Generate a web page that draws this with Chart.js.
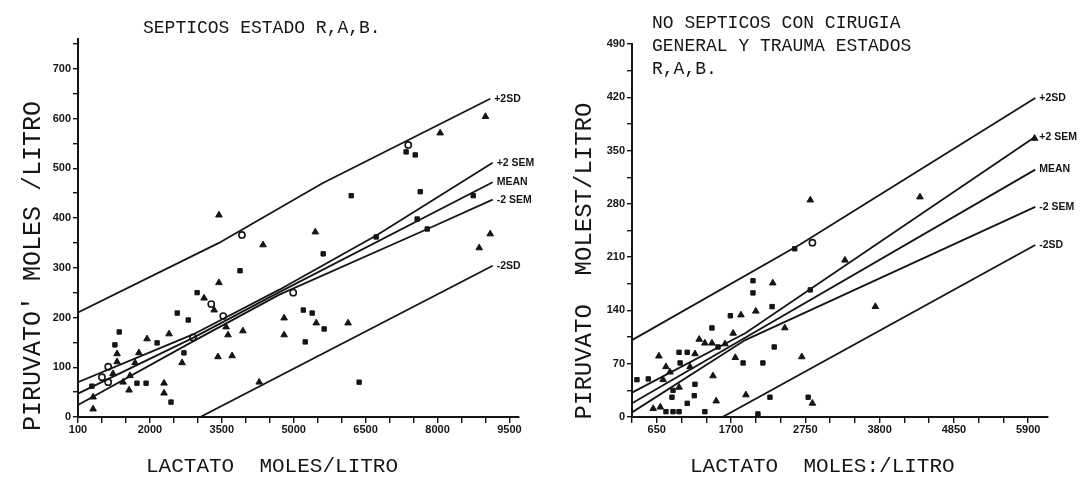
<!DOCTYPE html>
<html lang="es">
<head>
<meta charset="utf-8">
<title>Lactato vs Piruvato</title>
<script src="https://cdn.jsdelivr.net/npm/chart.js@4.4.1/dist/chart.umd.min.js"></script>
<style>
  html, body { margin:0; padding:0; background:#fff; }
  #wrap { position:relative; width:1091px; height:491px; background:#fff; overflow:hidden; }
  canvas { position:absolute; top:0; }
  #left { left:0; }
  #right { left:545px; }
</style>
</head>
<body>
<div id="wrap">
  <canvas id="left" width="545" height="491" style="width:545px;height:491px"></canvas>
  <canvas id="right" width="546" height="491" style="width:546px;height:491px"></canvas>
</div>
<script>
// ================= LEFT PANEL =================
const leftTitleLines = ['SEPTICOS ESTADO R,A,B.'];
const leftYTitle = "PIRUVATO' MOLES /LITRO";
const leftXTitle = 'LACTATO  MOLES/LITRO';

const leftXTicks = [500,1000,1500,2000,2500,3000,3500,4000,4500,5000,5500,6000,6500,7000,7500,8000,8500,9000,9500];
const leftXLabelValues = [500,2000,3500,5000,6500,8000,9500];
const leftXLabels = ['100','2000','3500','5000','6500','8000','9500'];
const leftYTicks = [0,50,100,150,200,250,300,350,400,450,500,550,600,650,700,750];
const leftYLabelValues = [0,100,200,300,400,500,600,700];
const leftYLabels = ['0','100','200','300','400','500','600','700'];

const leftPlus2SD  = [{x:500,y:210},{x:3440,y:350},{x:5600,y:470},{x:9100,y:640}];
const leftPlus2SEM = [{x:500,y:70},{x:2900,y:166},{x:4700,y:256},{x:6740,y:366},{x:9150,y:511}];
const leftMean     = [{x:500,y:47},{x:2900,y:159},{x:4700,y:251},{x:9150,y:472}];
const leftMinus2SEM= [{x:500,y:24},{x:2900,y:152},{x:4700,y:246},{x:7790,y:378},{x:9150,y:437}];
const leftMinus2SD = [{x:3050,y:0},{x:9150,y:304}];

const leftA = [
  {x:3440,y:406},{x:4360,y:346},{x:3440,y:270},{x:3130,y:239},{x:3340,y:215},{x:3590,y:181},
  {x:3630,y:165},{x:1940,y:157},{x:2400,y:167},{x:3940,y:173},{x:4800,y:199},{x:4800,y:165},
  {x:3420,y:121},{x:3715,y:123},{x:1315,y:127},{x:1315,y:111},{x:2670,y:109},{x:1770,y:129},
  {x:1690,y:109},{x:1230,y:87},{x:1440,y:70},{x:1585,y:83},{x:1565,y:54},{x:2295,y:68},
  {x:2295,y:48},{x:815,y:40},{x:815,y:16},{x:4280,y:70},{x:5450,y:372},{x:9100,y:368},
  {x:8870,y:340},{x:5470,y:189},{x:6135,y:189},{x:9000,y:604},{x:8055,y:571}
];
const leftB = [
  {x:3880,y:294},{x:2985,y:250},{x:2570,y:209},{x:2800,y:195},{x:1360,y:171},{x:2150,y:149},
  {x:1270,y:145},{x:2710,y:129},{x:1730,y:68},{x:1920,y:68},{x:2440,y:30},{x:790,y:62},
  {x:6200,y:445},{x:7640,y:453},{x:5615,y:328},{x:6720,y:362},{x:7575,y:398},{x:7785,y:378},
  {x:8745,y:445},{x:5200,y:215},{x:5385,y:209},{x:5635,y:177},{x:5240,y:151},{x:6365,y:70},
  {x:7345,y:533},{x:7535,y:527}
];
const leftO = [
  {x:3920,y:366},{x:3280,y:227},{x:3530,y:203},{x:2900,y:160},{x:1130,y:101},{x:1000,y:80},
  {x:1130,y:70},{x:4990,y:250},{x:7390,y:547}
];

// ================= RIGHT PANEL =================
const rightTitleLines = ['NO SEPTICOS CON CIRUGIA','GENERAL Y TRAUMA ESTADOS','R,A,B.'];
const rightYTitle = 'PIRUVATO  MOLEST/LITRO';
const rightXTitle = 'LACTATO  MOLES:/LITRO';

const rightXTicks = [300,650,1000,1350,1700,2050,2400,2750,3100,3450,3800,4150,4500,4850,5200,5550,5900];
const rightXLabelValues = [650,1700,2750,3800,4850,5900];
const rightXLabels = ['650','1700','2750','3800','4850','5900'];
const rightYTicks = [0,35,70,105,140,175,210,245,280,315,350,385,420,455,490];
const rightYLabelValues = [0,70,140,210,280,350,420,490];
const rightYLabels = ['0','70','140','210','280','350','420','490'];

const rightPlus2SD  = [{x:300,y:101},{x:2680,y:227},{x:6000,y:419}];
const rightPlus2SEM = [{x:300,y:32},{x:1900,y:110},{x:6000,y:368}];
const rightMean     = [{x:300,y:18},{x:6000,y:325}];
const rightMinus2SEM= [{x:300,y:6},{x:1900,y:101},{x:6000,y:276}];
const rightMinus2SD = [{x:1580,y:0},{x:6000,y:226}];

const rightA = [
  {x:2820,y:285},{x:2290,y:176},{x:1840,y:134},{x:2050,y:139},{x:1730,y:110},{x:1250,y:102},
  {x:1330,y:97},{x:1430,y:97},{x:1615,y:96},{x:680,y:80},{x:1190,y:83},{x:780,y:66},
  {x:1760,y:78},{x:2700,y:79},{x:740,y:49},{x:1445,y:54},{x:1490,y:21},{x:1910,y:29},
  {x:600,y:11},{x:700,y:13},{x:2850,y:18},{x:3310,y:206},{x:3740,y:145},{x:4370,y:289},
  {x:2460,y:117},{x:5990,y:366},{x:837,y:59},{x:1120,y:66},{x:965,y:39}
];
const rightB = [
  {x:2010,y:179},{x:2010,y:163},{x:1690,y:133},{x:2280,y:145},{x:1430,y:117},{x:1516,y:92},
  {x:965,y:85},{x:1080,y:85},{x:980,y:71},{x:1870,y:71},{x:2150,y:71},{x:2310,y:92},
  {x:370,y:49},{x:530,y:50},{x:1190,y:43},{x:865,y:26},{x:1180,y:28},{x:2250,y:26},
  {x:780,y:7},{x:880,y:7},{x:965,y:7},{x:1080,y:18},{x:1330,y:7},{x:2080,y:4},
  {x:2790,y:26},{x:2820,y:167},{x:2600,y:221},{x:880,y:35}
];
const rightO = [{x:2850,y:229}];

// ================= RENDERING =================
const ink = '#151515';
const monoFamily = '"Liberation Mono", "DejaVu Sans Mono", monospace';
const tickFont = { family: '"Liberation Sans", Arial, sans-serif', weight: 'bold', size: 11 };

function makeAnnotate(spec) {
  return {
    id: 'annotate',
    afterDatasetsDraw(chart) {
      const ctx = chart.ctx;
      ctx.save();
      ctx.fillStyle = ink;
      ctx.textBaseline = 'middle';
      ctx.textAlign = 'left';
      ctx.font = 'bold 10.5px "Liberation Sans", Arial, sans-serif';
      chart.data.datasets.forEach((ds, i) => {
        if (!ds.endLabel) return;
        const pts = chart.getDatasetMeta(i).data;
        const p = pts[pts.length - 1];
        ctx.fillText(ds.endLabel, p.x + 4, p.y);
      });
      ctx.font = '18px ' + monoFamily;
      spec.titleLines.forEach((t, k) => ctx.fillText(t, spec.titleX, spec.titleY + k * 23));
      ctx.font = '21px ' + monoFamily;
      ctx.fillText(spec.xTitle, spec.xTitleX, spec.xTitleY);
      ctx.translate(spec.yTitleX, spec.yTitleY);
      ctx.rotate(-Math.PI / 2);
      ctx.textAlign = 'center';
      ctx.font = spec.yTitleSize + 'px ' + monoFamily;
      ctx.fillText(spec.yTitle, 0, 0);
      ctx.restore();
    }
  };
}

function lineDs(label, data) {
  return { label, endLabel: label, data, showLine: true, borderColor: ink, borderWidth: 1.8,
           pointRadius: 0, fill: false, tension: 0, order: 2 };
}
function markerDs(label, data, style) {
  const open = style === 'circle';
  return { label, data, showLine: false, pointStyle: style,
           pointRadius: style === 'triangle' ? 3.8 : 3.1,
           backgroundColor: open ? 'rgba(0,0,0,0)' : ink, borderColor: ink,
           borderWidth: open ? 1.6 : 1, clip: false, order: 1 };
}

function axis(opts) {
  return {
    type: 'linear', min: opts.min, max: opts.max,
    border: { display: true, color: ink, width: 2 },
    grid: { display: true, drawOnChartArea: false, drawTicks: true, tickLength: opts.tickLen, color: ink, lineWidth: 1.4 },
    ticks: {
      autoSkip: false, maxRotation: 0, minRotation: 0, padding: opts.pad, color: ink, font: tickFont,
      callback: (v) => { const k = opts.labelValues.indexOf(v); return k >= 0 ? opts.labels[k] : ''; }
    },
    afterBuildTicks: (s) => { s.ticks = opts.ticks.map(v => ({ value: v })); },
    afterFit: (s) => { if (opts.width) s.width = opts.width; if (opts.height) s.height = opts.height; }
  };
}

function build(id, p) {
  new Chart(document.getElementById(id), {
    type: 'scatter',
    data: { datasets: [
      lineDs('+2SD', p.lines[0]), lineDs('+2 SEM', p.lines[1]), lineDs('MEAN', p.lines[2]),
      lineDs('-2 SEM', p.lines[3]), lineDs('-2SD', p.lines[4]),
      markerDs('A', p.A, 'triangle'), markerDs('R', p.B, 'rect'), markerDs('O', p.O, 'circle')
    ]},
    options: {
      responsive: false, animation: false, events: [],
      layout: { padding: p.padding },
      plugins: { legend: { display: false }, tooltip: { enabled: false }, title: { display: false } },
      scales: { x: axis(p.x), y: axis(p.y) }
    },
    plugins: [makeAnnotate(p.text)]
  });
}

build('left', {
  lines: [leftPlus2SD, leftPlus2SEM, leftMean, leftMinus2SEM, leftMinus2SD],
  A: leftA, B: leftB, O: leftO,
  padding: { top: 39, right: 26, bottom: 0, left: 0 },
  x: { min: 500, max: 9700, ticks: leftXTicks, labelValues: leftXLabelValues, labels: leftXLabels, tickLen: 6, pad: 0, height: 74 },
  y: { min: 0, max: 760, ticks: leftYTicks, labelValues: leftYLabelValues, labels: leftYLabels, tickLen: 5, pad: 2, width: 78 },
  text: { titleLines: leftTitleLines, titleX: 143, titleY: 28, xTitle: leftXTitle, xTitleX: 146, xTitleY: 466,
          yTitle: leftYTitle, yTitleX: 33, yTitleY: 266, yTitleSize: 25 }
});

build('right', {
  lines: [rightPlus2SD, rightPlus2SEM, rightMean, rightMinus2SEM, rightMinus2SD],
  A: rightA, B: rightB, O: rightO,
  padding: { top: 44, right: 43, bottom: 0, left: 0 },
  x: { min: 300, max: 6180, ticks: rightXTicks, labelValues: rightXLabelValues, labels: rightXLabels, tickLen: 6, pad: 0, height: 74 },
  y: { min: 0, max: 490, ticks: rightYTicks, labelValues: rightYLabelValues, labels: rightYLabels, tickLen: 5, pad: 2, width: 87 },
  text: { titleLines: rightTitleLines, titleX: 107, titleY: 23, xTitle: rightXTitle, xTitleX: 145, xTitleY: 466,
          yTitle: rightYTitle, yTitleX: 40, yTitleY: 261, yTitleSize: 24 }
});
</script>
</body>
</html>
